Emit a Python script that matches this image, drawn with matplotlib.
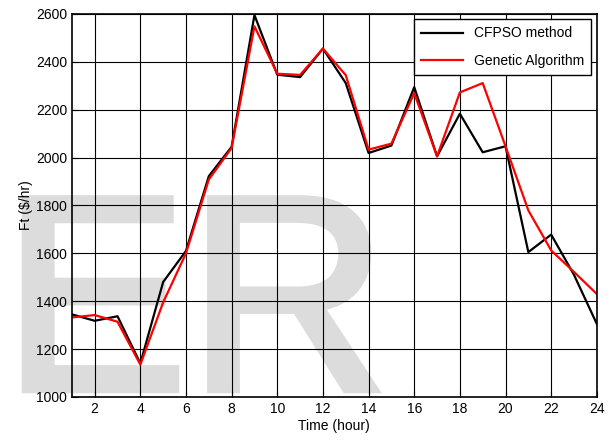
import matplotlib.pyplot as plt
import matplotlib.patheffects as pe

plt.rcParams['font.family'] = ['Liberation Sans', 'DejaVu Sans']

hours = list(range(1, 25))
cfpso = [1345, 1318, 1337, 1140, 1480, 1610, 1922, 2045, 2595, 2346, 2336, 2455,
         2311, 2019, 2050, 2294, 2005, 2183, 2022, 2047, 1605, 1678, 1510, 1305]
genetic = [1332, 1342, 1314, 1135, 1395, 1600, 1908, 2040, 2548, 2350, 2345, 2455,
           2344, 2033, 2058, 2269, 2005, 2272, 2311, 2047, 1779, 1612, 1522, 1430]

fig = plt.figure(figsize=(6.09, 4.48), dpi=100)
fig.patch.set_facecolor('white')
ax = fig.add_axes([0.118, 0.114, 0.862, 0.855])
ax.patch.set_alpha(0)

# watermark behind the axes
fig.text(0.004, 0.13, 'ER', fontsize=200, color='#dcdcdc', zorder=-10,
         ha='left', va='baseline',
         path_effects=[pe.withStroke(linewidth=5, foreground='#dcdcdc',
                                     joinstyle='miter')])

ax.plot(hours, cfpso, color='black', lw=1.6, label='CFPSO method')
ax.plot(hours, genetic, color='red', lw=1.6, label='Genetic Algorithm')

ax.set_xlim(1, 24)
ax.set_ylim(1000, 2600)
ax.set_xticks(range(2, 25, 2))
ax.set_yticks(range(1000, 2601, 200))
ax.grid(True, color='black', lw=0.8)
ax.tick_params(direction='in', labelsize=10, length=4)
for s in ax.spines.values():
    s.set_linewidth(1.2)

ax.set_xlabel('Time (hour)', fontsize=10, labelpad=2)
ax.set_ylabel('Ft ($/hr)', fontsize=10, labelpad=2)
ax.legend(loc='upper right', fontsize=10, fancybox=False, framealpha=1,
          edgecolor='black', borderaxespad=0.4, handlelength=3,
          labelspacing=0.95, borderpad=0.5)

fig.savefig('out.png', dpi=100)
